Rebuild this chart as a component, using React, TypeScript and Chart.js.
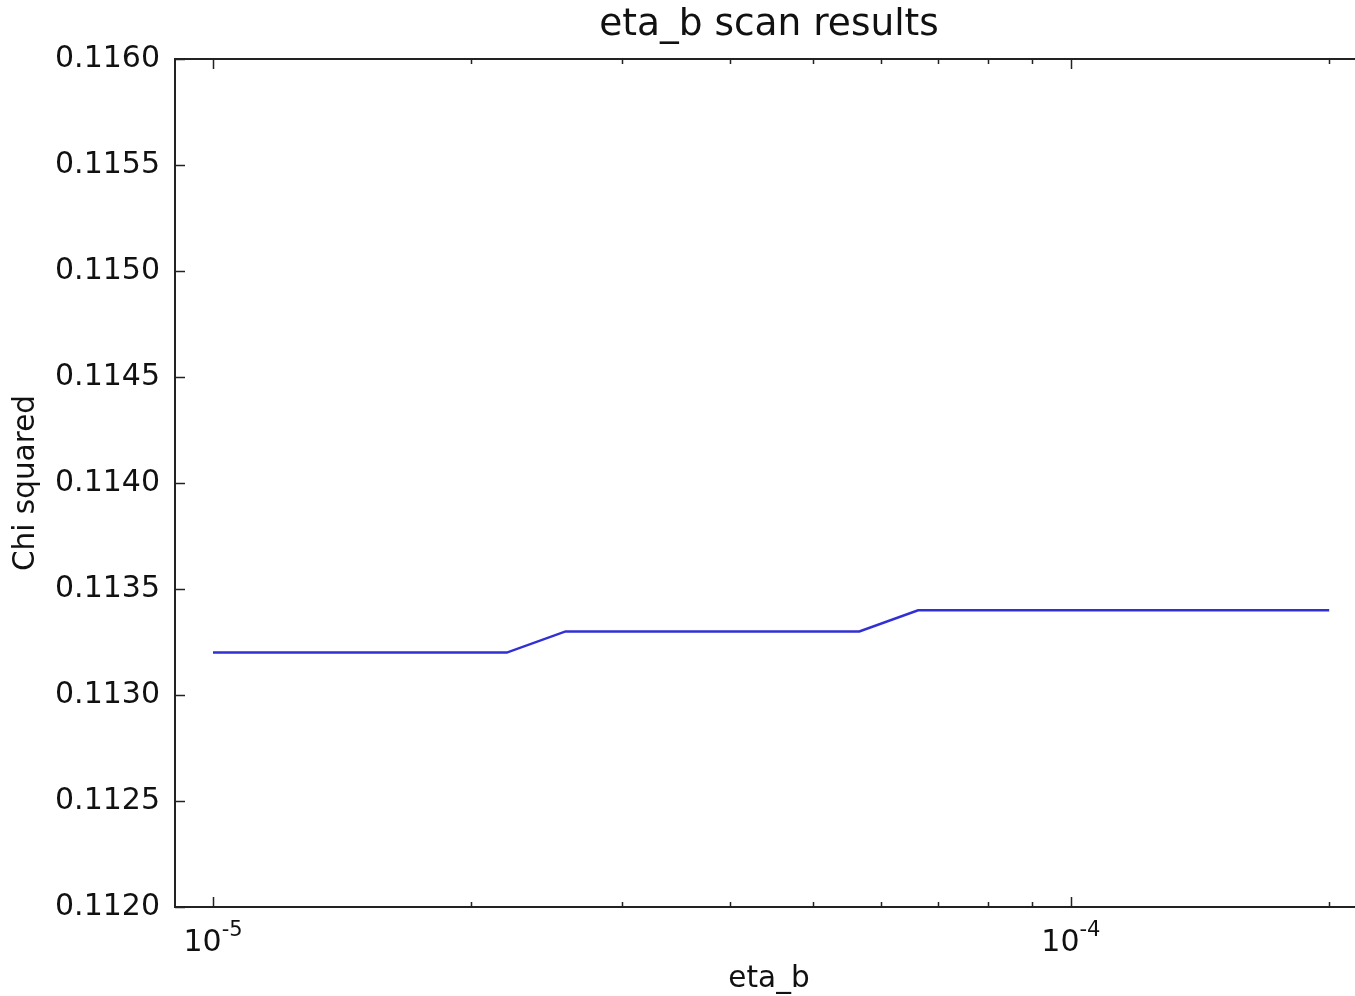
import React, { useEffect, useRef } from "react";
import { Chart, registerables } from "chart.js";

Chart.register(...registerables);

const chartTitle = "eta_b scan results";
const xAxisTitle = "eta_b";
const yAxisTitle = "Chi squared";

const etaB = [
  1.0e-5, 1.1708e-5, 1.3708e-5, 1.605e-5, 1.8791e-5, 2.2001e-5, 2.5759e-5,
  3.0159e-5, 3.531e-5, 4.1341e-5, 4.8402e-5, 5.667e-5, 6.6349e-5, 7.7682e-5,
  9.095e-5, 1.0648e-4, 1.2467e-4, 1.4596e-4, 1.709e-4, 2.0e-4,
];
const chiSquared = [
  0.1132, 0.1132, 0.1132, 0.1132, 0.1132, 0.1132, 0.1133, 0.1133, 0.1133,
  0.1133, 0.1133, 0.1133, 0.1134, 0.1134, 0.1134, 0.1134, 0.1134, 0.1134,
  0.1134, 0.1134,
];

const xMin = 9.03e-6;
const xMax = 2.19e-4;
const yMin = 0.112;
const yMax = 0.116;

const xMajorTicks = [1e-5, 1e-4];
const xMajorLabels = [["10", "-5"], ["10", "-4"]];
const xMinorTicks = [
  2e-5, 3e-5, 4e-5, 5e-5, 6e-5, 7e-5, 8e-5, 9e-5, 2e-4,
];
const yTicks = [0.112, 0.1125, 0.113, 0.1135, 0.114, 0.1145, 0.115, 0.1155, 0.116];
const yTickLabels = ["0.1120", "0.1125", "0.1130", "0.1135", "0.1140", "0.1145", "0.1150", "0.1155", "0.1160"];

const FONT = "'DejaVu Sans', 'Liberation Sans', sans-serif";

const decorPlugin = {
  id: "decor",
  afterDraw(chart: any) {
    const ctx = chart.ctx as CanvasRenderingContext2D;
    const { left, right, top, bottom } = chart.chartArea;
    const xs = chart.scales.x;
    const ys = chart.scales.y;
    ctx.save();
    // frame
    ctx.strokeStyle = "#222";
    ctx.lineWidth = 2;
    ctx.strokeRect(left, top, right - left, bottom - top);
    // ticks
    ctx.lineWidth = 1.5;
    const major = 10;
    const minor = 5;
    xMajorTicks.forEach((v) => {
      const px = Math.round(xs.getPixelForValue(v)) + 0.5;
      ctx.beginPath();
      ctx.moveTo(px, bottom);
      ctx.lineTo(px, bottom - major);
      ctx.moveTo(px, top);
      ctx.lineTo(px, top + major);
      ctx.stroke();
    });
    xMinorTicks.forEach((v) => {
      const px = Math.round(xs.getPixelForValue(v)) + 0.5;
      ctx.beginPath();
      ctx.moveTo(px, bottom);
      ctx.lineTo(px, bottom - minor);
      ctx.moveTo(px, top);
      ctx.lineTo(px, top + minor);
      ctx.stroke();
    });
    yTicks.forEach((v) => {
      const py = Math.round(ys.getPixelForValue(v)) + 0.5;
      ctx.beginPath();
      ctx.moveTo(left, py);
      ctx.lineTo(left + major, py);
      ctx.stroke();
    });
    ctx.fillStyle = "#111";
    // y tick labels
    ctx.font = `30px ${FONT}`;
    ctx.textAlign = "right";
    ctx.textBaseline = "middle";
    yTicks.forEach((v, i) => {
      ctx.fillText(yTickLabels[i], left - 15, ys.getPixelForValue(v));
    });
    // x tick labels with superscript
    ctx.textBaseline = "alphabetic";
    ctx.textAlign = "left";
    xMajorTicks.forEach((v, i) => {
      const [base, exp] = xMajorLabels[i];
      ctx.font = `30px ${FONT}`;
      const wb = ctx.measureText(base).width;
      ctx.font = `21px ${FONT}`;
      const we = ctx.measureText(exp).width;
      const cx = xs.getPixelForValue(v);
      const x0 = cx - (wb + we) / 2;
      ctx.font = `30px ${FONT}`;
      ctx.fillText(base, x0, bottom + 44);
      ctx.font = `21px ${FONT}`;
      ctx.fillText(exp, x0 + wb, bottom + 29);
    });
    // axis titles
    ctx.font = `29.5px ${FONT}`;
    ctx.textAlign = "center";
    ctx.fillText(xAxisTitle, (left + right) / 2, bottom + 80);
    ctx.save();
    ctx.translate(34, (top + bottom) / 2);
    ctx.rotate(-Math.PI / 2);
    ctx.fillText(yAxisTitle, 0, 0);
    ctx.restore();
    // chart title
    ctx.font = `37.5px ${FONT}`;
    ctx.fillText(chartTitle, (left + right) / 2, top - 24);
    ctx.restore();
  },
};

export default function App() {
  const canvasRef = useRef<HTMLCanvasElement | null>(null);

  useEffect(() => {
    const canvas = canvasRef.current;
    if (!canvas) return;
    const chart = new Chart(canvas, {
      type: "line",
      data: {
        datasets: [
          {
            data: etaB.map((x, i) => ({ x, y: chiSquared[i] })),
            borderColor: "#3030d4",
            borderWidth: 2.5,
            pointRadius: 0,
            fill: false,
            tension: 0,
          },
        ],
      },
      options: {
        animation: false,
        responsive: false,
        devicePixelRatio: 1,
        layout: { padding: { left: 175, top: 59, right: 17, bottom: 89 } },
        plugins: {
          legend: { display: false },
          title: { display: false },
          tooltip: { enabled: false },
        },
        scales: {
          x: { type: "logarithmic", min: xMin, max: xMax, display: false },
          y: { type: "linear", min: yMin, max: yMax, display: false },
        },
      },
      plugins: [decorPlugin],
    });
    return () => chart.destroy();
  }, []);

  return (
    <div
      style={{
        position: "fixed",
        left: 0,
        top: 0,
        width: 1355,
        height: 996,
        overflow: "hidden",
        background: "#fff",
      }}
    >
      <canvas ref={canvasRef} width={1380} height={996} style={{ display: "block" }} />
    </div>
  );
}
